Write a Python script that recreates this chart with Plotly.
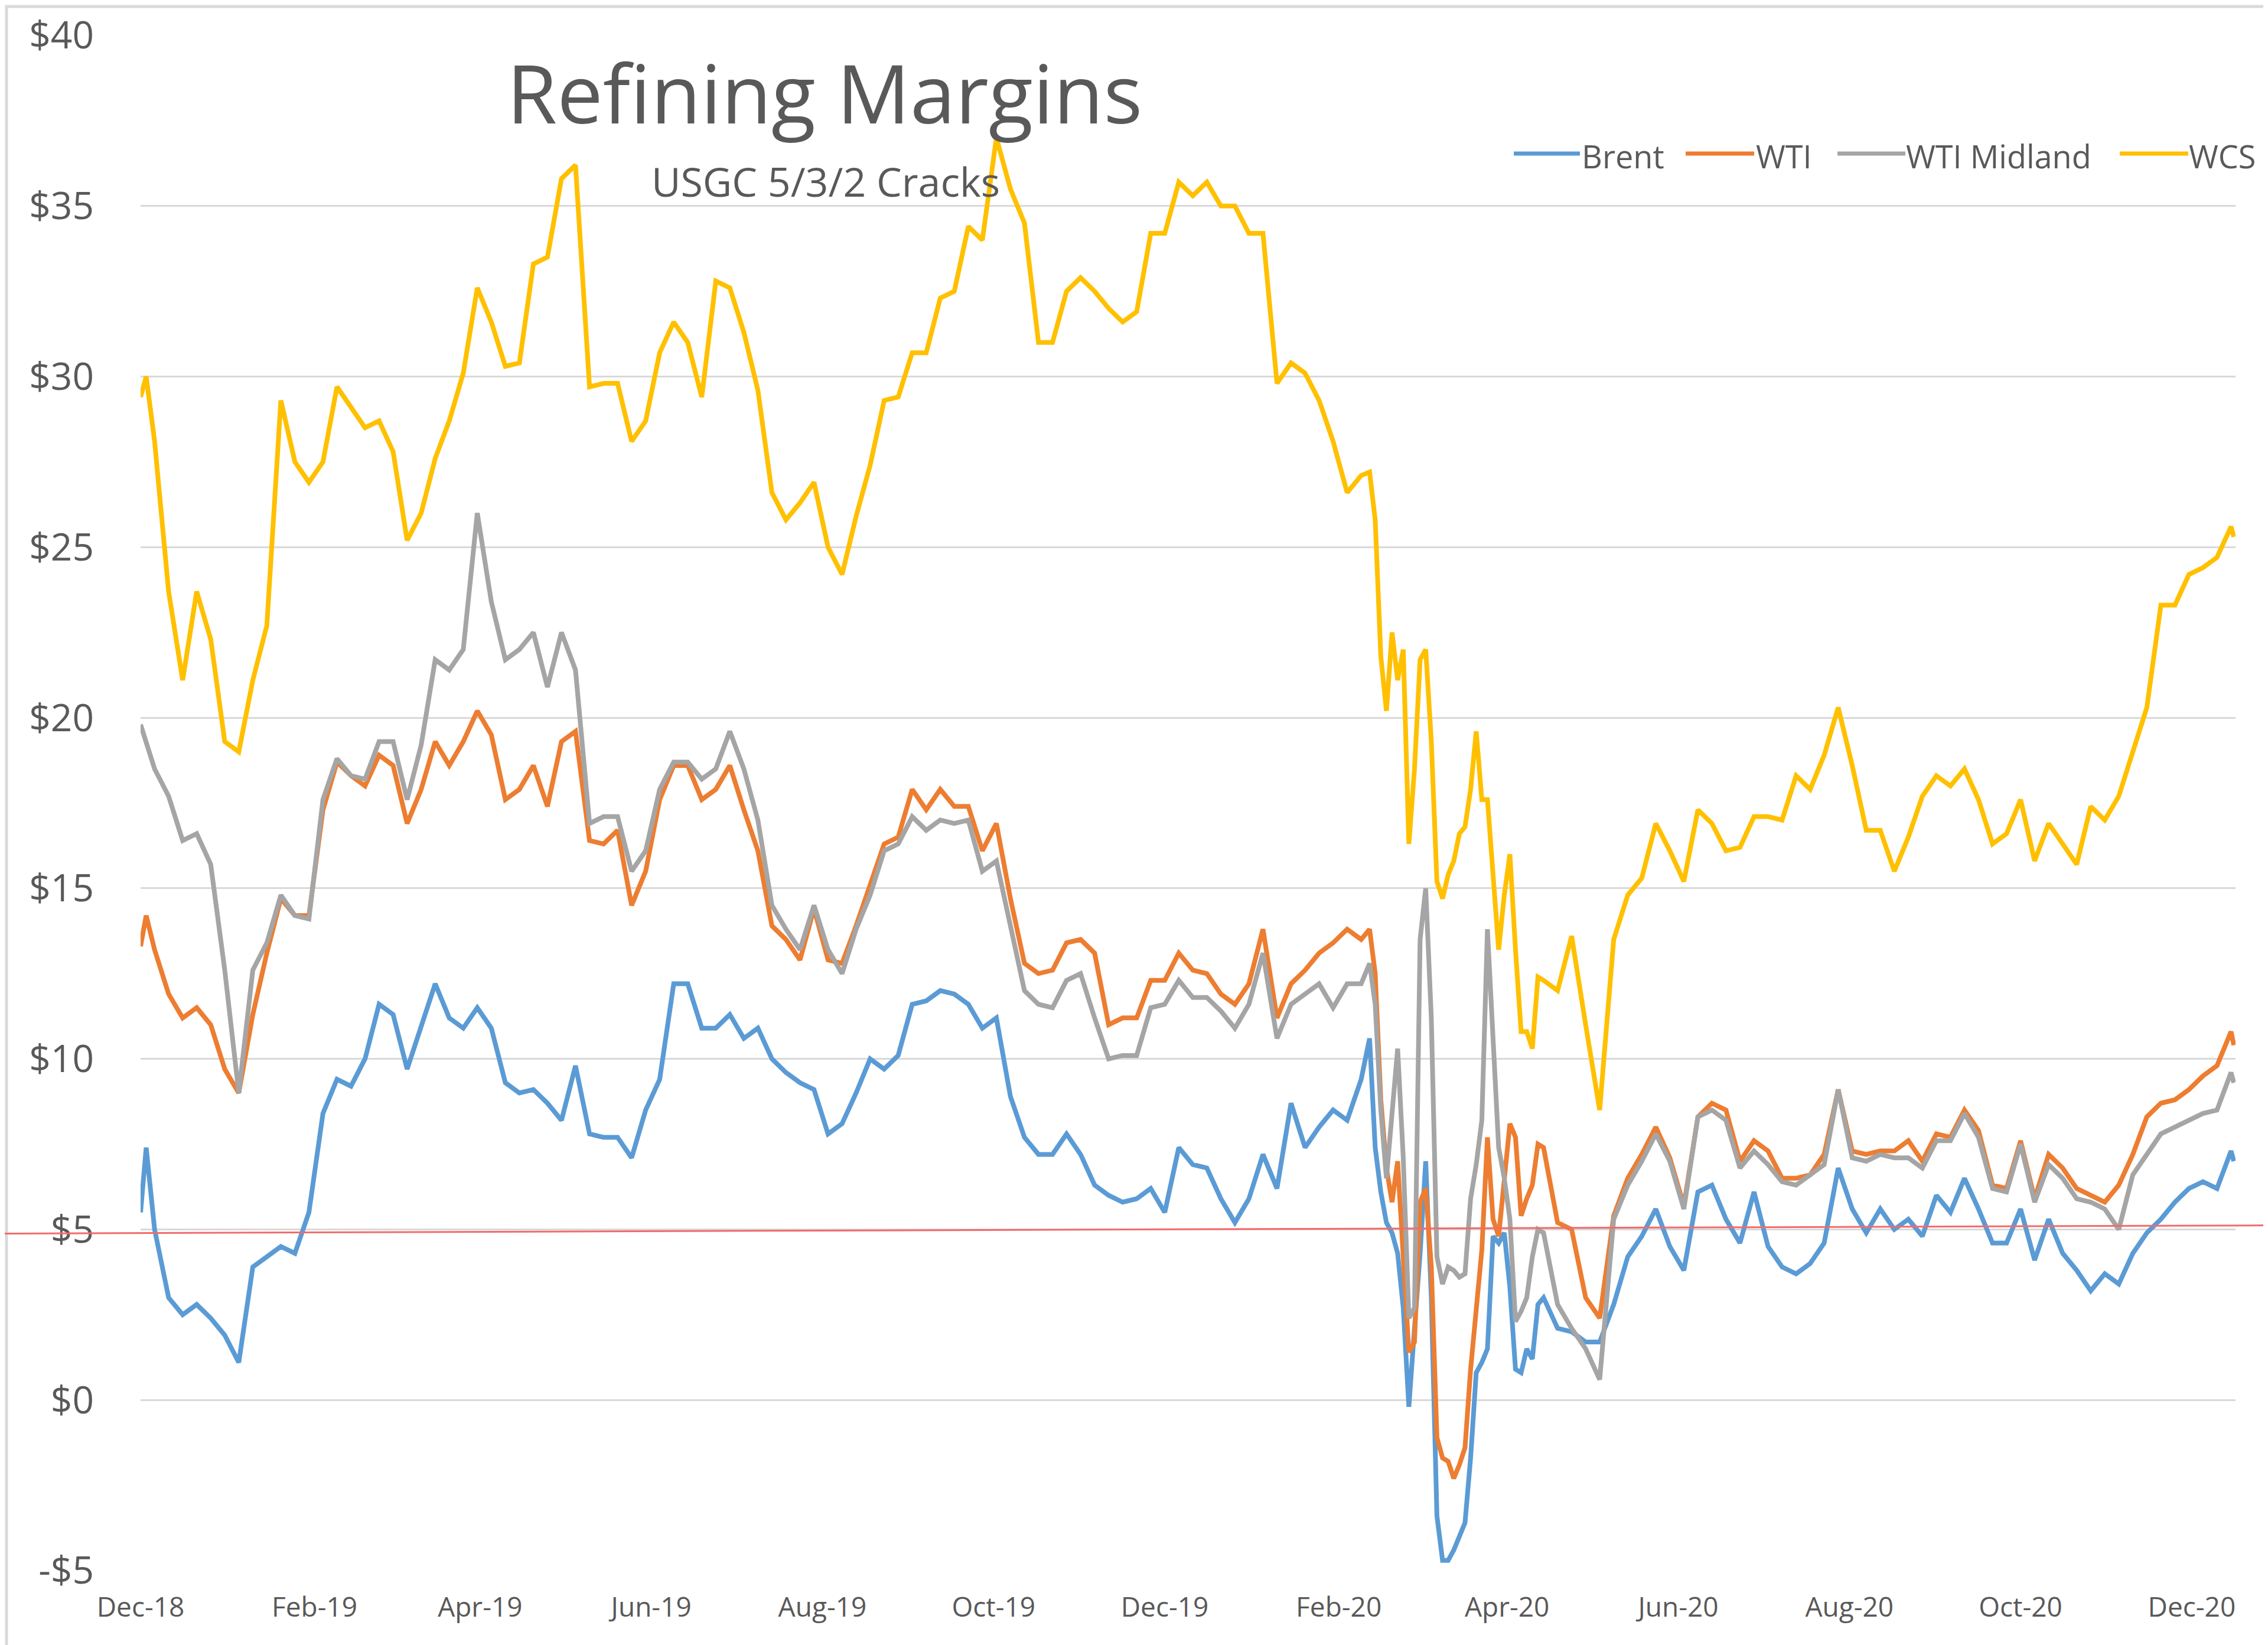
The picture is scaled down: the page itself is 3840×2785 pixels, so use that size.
import pandas as pd
import plotly.graph_objects as go

# ---------------- DATA ----------------
BASE_DATE = "2018-12-01"
# day offsets from BASE_DATE of each sampled point
DAY_OFFSETS = [
    0, 2, 5, 10, 15, 20, 25, 30, 35, 40, 45, 50, 55, 60, 65, 70, 75, 80, 85, 90,
    95, 100, 105, 110, 115, 120, 125, 130, 135, 140, 145, 150, 155, 160, 165, 170, 175, 180, 185, 190,
    195, 200, 205, 210, 215, 220, 225, 230, 235, 240, 245, 250, 255, 260, 265, 270, 275, 280, 285, 290,
    295, 300, 305, 310, 315, 320, 325, 330, 335, 340, 345, 350, 355, 360, 365, 370, 375, 380, 385, 390,
    395, 400, 405, 410, 415, 420, 425, 430, 435,
    438, 440, 442, 444, 446, 448, 450, 452, 454, 456, 458, 460, 462, 464, 466, 468, 470, 472, 474, 476,
    478, 480, 482, 484, 486, 488, 490, 492, 494, 496, 498, 500,
    505, 510, 515, 520, 525, 530, 535, 540, 545, 550, 555, 560, 565, 570, 575, 580, 585, 590, 595, 600,
    605, 610, 615, 620, 625, 630, 635, 640, 645, 650, 655, 660, 665, 670, 675, 680, 685, 690, 695, 700,
    705, 710, 715, 720, 725, 730, 735, 740, 745, 746,
]

BRENT = [
    5.5, 7.4, 5.0, 3.0, 2.5, 2.8, 2.4, 1.9, 1.1, 3.9,
    4.2, 4.5, 4.3, 5.5, 8.4, 9.4, 9.2, 10.0, 11.6, 11.3,
    9.7, 10.9, 12.2, 11.2, 10.9, 11.5, 10.9, 9.3, 9.0, 9.1,
    8.7, 8.2, 9.8, 7.8, 7.7, 7.7, 7.1, 8.5, 9.4, 12.2,
    12.2, 10.9, 10.9, 11.3, 10.6, 10.9, 10.0, 9.6, 9.3, 9.1,
    7.8, 8.1, 9.0, 10.0, 9.7, 10.1, 11.6, 11.7, 12.0, 11.9,
    11.6, 10.9, 11.2, 8.9, 7.7, 7.2, 7.2, 7.8, 7.2, 6.3,
    6.0, 5.8, 5.9, 6.2, 5.5, 7.4, 6.9, 6.8, 5.9, 5.2,
    5.9, 7.2, 6.2, 8.7, 7.4, 8.0, 8.5, 8.2, 9.4,
    10.6, 7.4, 6.1, 5.2, 4.9, 4.3, 2.7, -0.2, 2.1, 4.3,
    7.0, 3.0, -3.4, -4.7, -4.7, -4.4, -4.0, -3.6, -1.7, 0.8,
    1.1, 1.5, 4.8, 4.6, 4.9, 3.3, 0.9, 0.8, 1.5, 1.2,
    2.8, 3.0,
    2.1, 2.0, 1.7, 1.7, 2.8, 4.2, 4.8, 5.6, 4.5, 3.8,
    6.1, 6.3, 5.3, 4.6, 6.1, 4.5, 3.9, 3.7, 4.0, 4.6,
    6.8, 5.6, 4.9, 5.6, 5.0, 5.3, 4.8, 6.0, 5.5, 6.5,
    5.6, 4.6, 4.6, 5.6, 4.1, 5.3, 4.3, 3.8, 3.2, 3.7,
    3.4, 4.3, 4.9, 5.3, 5.8, 6.2, 6.4, 6.2, 7.3, 7.0,
]

WTI = [
    13.3, 14.2, 13.2, 11.9, 11.2, 11.5, 11.0, 9.7, 9.0, 11.3,
    13.1, 14.7, 14.2, 14.2, 17.3, 18.7, 18.3, 18.0, 18.9, 18.6,
    16.9, 17.9, 19.3, 18.6, 19.3, 20.2, 19.5, 17.6, 17.9, 18.6,
    17.4, 19.3, 19.6, 16.4, 16.3, 16.7, 14.5, 15.5, 17.6, 18.6,
    18.6, 17.6, 17.9, 18.6, 17.3, 16.1, 13.9, 13.5, 12.9, 14.4,
    12.9, 12.8, 13.9, 15.1, 16.3, 16.5, 17.9, 17.3, 17.9, 17.4,
    17.4, 16.1, 16.9, 14.7, 12.8, 12.5, 12.6, 13.4, 13.5, 13.1,
    11.0, 11.2, 11.2, 12.3, 12.3, 13.1, 12.6, 12.5, 11.9, 11.6,
    12.2, 13.8, 11.2, 12.2, 12.6, 13.1, 13.4, 13.8, 13.5,
    13.8, 12.5, 8.8, 6.8, 5.8, 7.0, 4.2, 1.4, 1.7, 5.8,
    6.2, 3.9, -1.1, -1.7, -1.8, -2.3, -1.9, -1.4, 0.9, 2.6,
    4.4, 7.7, 5.3, 4.8, 6.5, 8.1, 7.7, 5.4, 5.9, 6.3,
    7.5, 7.4,
    5.2, 5.0, 3.0, 2.4, 5.4, 6.5, 7.2, 8.0, 7.1, 5.7,
    8.3, 8.7, 8.5, 7.0, 7.6, 7.3, 6.5, 6.5, 6.6, 7.2,
    9.1, 7.3, 7.2, 7.3, 7.3, 7.6, 7.0, 7.8, 7.7, 8.5,
    7.9, 6.3, 6.2, 7.6, 5.9, 7.2, 6.8, 6.2, 6.0, 5.8,
    6.3, 7.2, 8.3, 8.7, 8.8, 9.1, 9.5, 9.8, 10.8, 10.4,
]

WTI_MIDLAND = [
    19.8, 19.3, 18.5, 17.7, 16.4, 16.6, 15.7, 12.6, 9.0, 12.6,
    13.4, 14.8, 14.2, 14.1, 17.6, 18.8, 18.3, 18.2, 19.3, 19.3,
    17.6, 19.2, 21.7, 21.4, 22.0, 26.0, 23.4, 21.7, 22.0, 22.5,
    20.9, 22.5, 21.4, 16.9, 17.1, 17.1, 15.5, 16.1, 17.9, 18.7,
    18.7, 18.2, 18.5, 19.6, 18.5, 17.0, 14.5, 13.8, 13.2, 14.5,
    13.2, 12.5, 13.8, 14.8, 16.1, 16.3, 17.1, 16.7, 17.0, 16.9,
    17.0, 15.5, 15.8, 13.9, 12.0, 11.6, 11.5, 12.3, 12.5, 11.2,
    10.0, 10.1, 10.1, 11.5, 11.6, 12.3, 11.8, 11.8, 11.4, 10.9,
    11.6, 13.1, 10.6, 11.6, 11.9, 12.2, 11.5, 12.2, 12.2,
    12.8, 11.6, 8.5, 6.5, 8.3, 10.3, 7.1, 2.4, 2.7, 13.5,
    15.0, 11.2, 4.2, 3.4, 3.9, 3.8, 3.6, 3.7, 5.9, 6.9,
    8.2, 13.8, 10.6, 7.4, 6.5, 5.3, 2.3, 2.6, 3.0, 4.2,
    5.0, 4.9,
    2.8, 2.1, 1.5, 0.6, 5.3, 6.3, 7.0, 7.8, 7.0, 5.6,
    8.3, 8.5, 8.2, 6.8, 7.3, 6.9, 6.4, 6.3, 6.6, 6.9,
    9.1, 7.1, 7.0, 7.2, 7.1, 7.1, 6.8, 7.6, 7.6, 8.4,
    7.7, 6.2, 6.1, 7.5, 5.8, 6.9, 6.5, 5.9, 5.8, 5.6,
    5.0, 6.6, 7.2, 7.8, 8.0, 8.2, 8.4, 8.5, 9.6, 9.3,
]

WCS = [
    29.4, 30.0, 28.1, 23.7, 21.1, 23.7, 22.3, 19.3, 19.0, 21.1,
    22.7, 29.3, 27.5, 26.9, 27.5, 29.7, 29.1, 28.5, 28.7, 27.8,
    25.2, 26.0, 27.6, 28.7, 30.1, 32.6, 31.6, 30.3, 30.4, 33.3,
    33.5, 35.8, 36.2, 29.7, 29.8, 29.8, 28.1, 28.7, 30.7, 31.6,
    31.0, 29.4, 32.8, 32.6, 31.3, 29.6, 26.6, 25.8, 26.3, 26.9,
    25.0, 24.2, 25.9, 27.4, 29.3, 29.4, 30.7, 30.7, 32.3, 32.5,
    34.4, 34.0, 37.0, 35.5, 34.5, 31.0, 31.0, 32.5, 32.9, 32.5,
    32.0, 31.6, 31.9, 34.2, 34.2, 35.7, 35.3, 35.7, 35.0, 35.0,
    34.2, 34.2, 29.8, 30.4, 30.1, 29.3, 28.1, 26.6, 27.1,
    27.2, 25.8, 21.8, 20.2, 22.5, 21.1, 22.0, 16.3, 18.5, 21.7,
    22.0, 19.3, 15.2, 14.7, 15.4, 15.8, 16.6, 16.8, 17.9, 19.6,
    17.6, 17.6, 15.2, 13.2, 14.8, 16.0, 13.2, 10.8, 10.8, 10.3,
    12.4, 12.3,
    12.0, 13.6, 11.0, 8.5, 13.5, 14.8, 15.3, 16.9, 16.1, 15.2,
    17.3, 16.9, 16.1, 16.2, 17.1, 17.1, 17.0, 18.3, 17.9, 18.9,
    20.3, 18.6, 16.7, 16.7, 15.5, 16.5, 17.7, 18.3, 18.0, 18.5,
    17.6, 16.3, 16.6, 17.6, 15.8, 16.9, 16.3, 15.7, 17.4, 17.0,
    17.7, 19.0, 20.3, 23.3, 23.3, 24.2, 24.4, 24.7, 25.6, 25.3,
]

SERIES_NAMES = ["Brent", "WTI", "WTI Midland", "WCS"]
SERIES_COLORS = ["#5B9BD5", "#ED7D31", "#A5A5A5", "#FFC000"]

X_TICK_DATES = ["2018-12-01", "2019-02-01", "2019-04-01", "2019-06-01", "2019-08-01",
                "2019-10-01", "2019-12-01", "2020-02-01", "2020-04-01", "2020-06-01",
                "2020-08-01", "2020-10-01", "2020-12-01"]
X_TICK_LABELS = ["Dec-18", "Feb-19", "Apr-19", "Jun-19", "Aug-19", "Oct-19", "Dec-19",
                 "Feb-20", "Apr-20", "Jun-20", "Aug-20", "Oct-20", "Dec-20"]
Y_TICK_VALUES = [-5, 0, 5, 10, 15, 20, 25, 30, 35, 40]
Y_TICK_LABELS = ["-$5", "$0", "$5", "$10", "$15", "$20", "$25", "$30", "$35", "$40"]

TITLE = "Refining Margins"
SUBTITLE = "USGC 5/3/2 Cracks"
REFERENCE_LINE = (4.88, 5.12)  # red reference line, value at left / right edge of the image

series_values = [BRENT, WTI, WTI_MIDLAND, WCS]
for v in series_values:
    assert len(v) == len(DAY_OFFSETS), (len(v), len(DAY_OFFSETS))

# ---------------- LAYOUT GEOMETRY (pixels) ----------------
W, H = 3840, 2785
L, R, T, B = 230, 3777, 52, 2651
FONT = "Open Sans"
TEXT_COLOR = "#595959"


def px(x):
    return (x - L) / (R - L)


def py(y):
    return (B - y) / (B - T)


base = pd.Timestamp(BASE_DATE)
dates = base + pd.to_timedelta(DAY_OFFSETS, unit="D")
x_range = [base, base + pd.Timedelta(days=746.6)]

fig = go.Figure()
for name, vals, color in zip(SERIES_NAMES, series_values, SERIES_COLORS):
    fig.add_trace(go.Scatter(
        x=dates, y=vals, name=name, mode="lines",
        line=dict(color=color, width=8), showlegend=False,
    ))

fig.update_layout(
    width=W, height=H,
    margin=dict(l=L, r=W - R, t=T, b=H - B, pad=0, autoexpand=False),
    paper_bgcolor="white", plot_bgcolor="white",
    font=dict(family=FONT, color=TEXT_COLOR),
    showlegend=False,
)
fig.update_xaxes(
    type="date", range=x_range, automargin=False,
    tickvals=X_TICK_DATES, ticktext=X_TICK_LABELS,
    showgrid=False, zeroline=False, showline=False, ticks="",
    tickfont=dict(size=46, color=TEXT_COLOR, family=FONT),
    ticklabelstandoff=31, ticklabeloverflow="allow",
)
fig.update_yaxes(
    range=[-5, 40], automargin=False,
    tickvals=Y_TICK_VALUES, ticktext=Y_TICK_LABELS,
    showgrid=True, gridcolor="#D9D9D9", gridwidth=3,
    zeroline=False, showline=False, ticks="",
    tickfont=dict(size=64, color=TEXT_COLOR, family=FONT),
    ticklabelstandoff=78, ticklabeloverflow="allow",
)

shapes = []
# red reference line spanning the whole picture
shapes.append(dict(type="line", xref="paper", yref="y",
                   x0=px(0), x1=px(W), y0=REFERENCE_LINE[0], y1=REFERENCE_LINE[1],
                   line=dict(color="#F26B6B", width=3), layer="above"))
# outer chart border
shapes.append(dict(type="rect", xref="paper", yref="paper",
                   x0=px(3), x1=px(W - 4), y0=py(H - 4), y1=py(3),
                   line=dict(color="#D9D9D9", width=5), layer="below"))

annotations = [
    dict(text=TITLE, xref="paper", yref="paper", x=px(1388), y=py(147),
         xanchor="center", yanchor="middle", showarrow=False,
         font=dict(size=138, color=TEXT_COLOR, family=FONT)),
    dict(text=SUBTITLE, xref="paper", yref="paper", x=px(1390), y=py(298),
         xanchor="center", yanchor="middle", showarrow=False,
         font=dict(size=68, color=TEXT_COLOR, family=FONT)),
]

# manual legend (line sample + label)
LEGEND_Y = 252
LEGEND_POS = [(2555, 2667, 2668), (2846, 2962, 2963), (3103, 3218, 3217), (3581, 3697, 3696)]
for name, color, (lx0, lx1, tx) in zip(SERIES_NAMES, SERIES_COLORS, LEGEND_POS):
    shapes.append(dict(type="line", xref="paper", yref="paper",
                       x0=px(lx0), x1=px(lx1), y0=py(LEGEND_Y), y1=py(LEGEND_Y),
                       line=dict(color=color, width=7)))
    annotations.append(dict(text=name, xref="paper", yref="paper", x=px(tx), y=py(LEGEND_Y + 4),
                            xanchor="left", yanchor="middle", showarrow=False,
                            font=dict(size=54, color=TEXT_COLOR, family=FONT)))

fig.update_layout(shapes=shapes, annotations=annotations)

fig.write_html("out.html")
